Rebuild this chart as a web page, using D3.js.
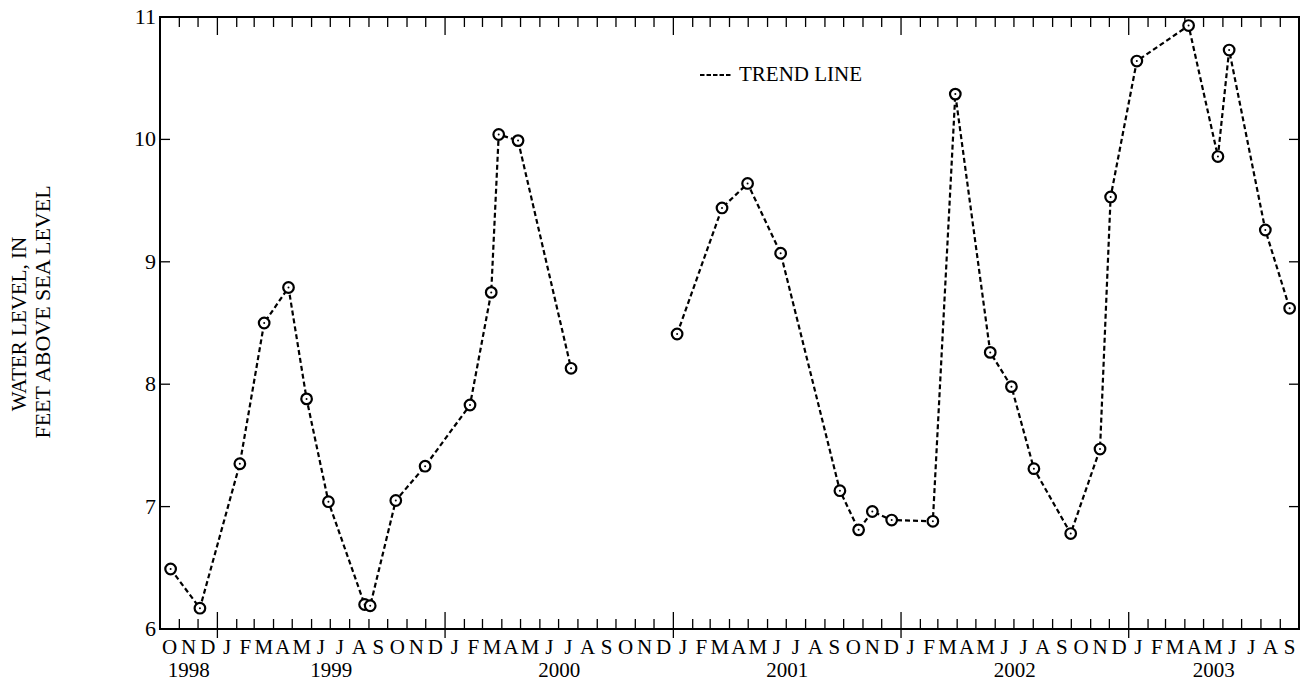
<!DOCTYPE html>
<html>
<head>
<meta charset="utf-8">
<script src="https://cdn.jsdelivr.net/npm/d3@7"></script>
<style>
  html, body { margin: 0; padding: 0; background: #fff; }
  svg { display: block; }
  text { font-family: "Liberation Serif", "Times New Roman", serif; fill: #000; }
</style>
</head>
<body>
<svg id="chart" width="1303" height="683"></svg>
<script>
// ---- data ----
const sampleDates = [
  "1998-10-18","1998-12-04","1999-02-06","1999-03-17","1999-04-25","1999-05-24",
  "1999-06-28","1999-08-25","1999-09-03","1999-10-14","1999-11-30","2000-02-10",
  "2000-03-15","2000-03-27","2000-04-27","2000-07-21",
  "2001-01-07","2001-03-20","2001-04-30","2001-06-22","2001-09-25","2001-10-25",
  "2001-11-16","2001-12-17","2002-02-21","2002-03-29","2002-05-24","2002-06-27",
  "2002-08-02","2002-09-30","2002-11-16","2002-12-03","2003-01-14","2003-04-07",
  "2003-05-24","2003-06-11","2003-08-08","2003-09-16"
];
const waterLevels = [
  6.49, 6.17, 7.35, 8.50, 8.79, 7.88,
  7.04, 6.20, 6.19, 7.05, 7.33, 7.83,
  8.75, 10.04, 9.99, 8.13,
  8.41, 9.44, 9.64, 9.07, 7.13, 6.81,
  6.96, 6.89, 6.88, 10.37, 8.26, 7.98,
  7.31, 6.78, 7.47, 9.53, 10.64, 10.93,
  9.86, 10.73, 9.26, 8.62
];
const yTicks = [6, 7, 8, 9, 10, 11];
const monthLetters = ["J","F","M","A","M","J","J","A","S","O","N","D"];
const legendLabel = "TREND LINE";
const yTitleLines = ["WATER LEVEL, IN", "FEET ABOVE SEA LEVEL"];
const xStart = "1998-10-01", xEnd = "2003-10-01";

// ---- layout ----
const svg = d3.select("#chart");
const L = 160, R = 1299, T = 17, B = 629;
const FS = 21;
const parse = d3.utcParse("%Y-%m-%d");
const pts = sampleDates.map((d, i) => ({ date: parse(d), value: waterLevels[i] }));

const x = d3.scaleUtc().domain([parse(xStart), parse(xEnd)]).range([L, R]);
const y = d3.scaleLinear().domain([6, 11]).range([B, T]);

function addText(px, py, str, anchor, size, rot) {
  return svg.append("text")
    .attr("transform", `translate(${px},${py})` + (rot ? ` rotate(${rot})` : ""))
    .attr("text-anchor", anchor)
    .attr("font-size", size)
    .text(str);
}

// months
const months = d3.utcMonth.range(parse(xStart), parse(xEnd));
const tickG = svg.append("g").attr("stroke", "#000").attr("stroke-width", 1.3);
months.forEach((m, i) => {
  if (i === 0) return;
  const px = x(m);
  const major = m.getUTCMonth() === 0;
  tickG.append("line").attr("x1", px).attr("x2", px)
    .attr("y1", B).attr("y2", major ? B - 17 : B - 10);
  if (major) tickG.append("line").attr("x1", px).attr("x2", px).attr("y1", B).attr("y2", B + 9);
  tickG.append("line").attr("x1", px).attr("x2", px)
    .attr("y1", T).attr("y2", major ? T + 18 : T + 10);
});
// month labels
months.forEach(m => {
  const next = d3.utcMonth.offset(m, 1);
  addText((x(m) + x(next)) / 2, 654, monthLetters[m.getUTCMonth()], "middle", FS);
});
// year labels
d3.range(1998, 2004).forEach(yr => {
  const s = d3.max([parse(xStart), parse(yr + "-01-01")]);
  const e = d3.min([parse(xEnd), parse((yr + 1) + "-01-01")]);
  addText((x(s) + x(e)) / 2, 677, String(yr), "middle", FS);
});

// y ticks
yTicks.forEach(v => {
  const py = y(v);
  if (v !== 6 && v !== 11) {
    tickG.append("line").attr("x1", L).attr("x2", L + 10).attr("y1", py).attr("y2", py);
    tickG.append("line").attr("x1", R).attr("x2", R - 10).attr("y1", py).attr("y2", py);
  }
  addText(156, py + 7, String(v), "end", 22);
});

// frame
svg.append("rect").attr("x", L).attr("y", T).attr("width", R - L).attr("height", B - T)
  .attr("fill", "none").attr("stroke", "#000").attr("stroke-width", 2);

// y title
addText(26, 324, yTitleLines[0], "middle", 21, -90);
addText(50, 312, yTitleLines[1], "middle", 22, -90);

// trend line (break on long gaps)
const line = d3.line().x(d => x(d.date)).y(d => y(d.value));
const segs = [[]];
pts.forEach((p, i) => {
  if (i > 0 && (p.date - pts[i - 1].date) > 120 * 864e5) segs.push([]);
  segs[segs.length - 1].push(p);
});
svg.append("g").selectAll("path").data(segs).join("path")
  .attr("d", line)
  .attr("fill", "none").attr("stroke", "#000")
  .attr("stroke-width", 2.2).attr("stroke-dasharray", "5,3");

// markers
const mk = svg.append("g");
mk.selectAll("circle.o").data(pts).join("circle").attr("class", "o")
  .attr("cx", d => x(d.date)).attr("cy", d => y(d.value)).attr("r", 5.3)
  .attr("fill", "#fff").attr("stroke", "#000").attr("stroke-width", 2.2);
mk.selectAll("circle.c").data(pts).join("circle").attr("class", "c")
  .attr("cx", d => x(d.date)).attr("cy", d => y(d.value)).attr("r", 1)
  .attr("fill", "#000");

// legend
svg.append("line").attr("x1", 700).attr("x2", 731).attr("y1", 75).attr("y2", 75)
  .attr("stroke", "#000").attr("stroke-width", 2).attr("stroke-dasharray", "4.5,2");
addText(739, 81, legendLabel, "start", FS);
</script>
</body>
</html>
